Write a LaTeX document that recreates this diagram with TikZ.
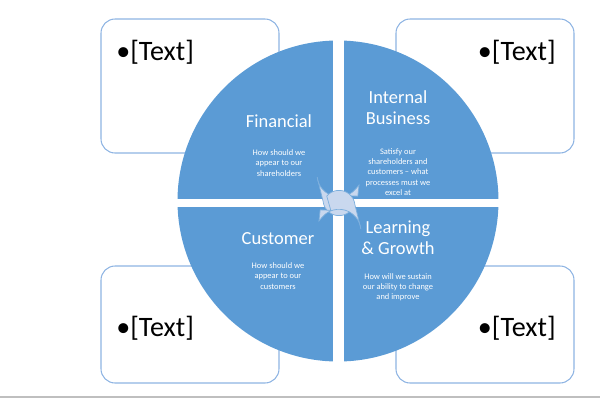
\documentclass[tikz,border=0pt]{standalone}
\usepackage{fontspec}
\setmainfont{Carlito}
\usetikzlibrary{arrows.meta}
\definecolor{qb}{HTML}{5B9BD5}
\definecolor{bb}{HTML}{8EB4E3}
\definecolor{ar}{HTML}{C9D8EE}
\begin{document}
\begin{tikzpicture}[x=0.02cm,y=-0.02cm,
  cbox/.style={draw=bb,line width=0.6pt,rounded corners=8pt,fill=white},
  ttl/.style={text=white,font=\fontsize{10.5}{12}\selectfont,align=center},
  sub/.style={text=white,font=\fontsize{4.8}{5.8}\selectfont,align=center},
  btxt/.style={font=\fontsize{16}{18}\selectfont,inner sep=0pt},
  carrow/.style={draw=qb!80,fill=ar,line width=0.4pt}]
\useasboundingbox (0,0) rectangle (600,400);
\draw[gray!50,line width=0.6pt] (0,397) -- (600,397);
\node[cbox,minimum width=178*0.02cm,minimum height=134*0.02cm] (b1) at (190,86) {};
\node[cbox,minimum width=178*0.02cm,minimum height=134*0.02cm] (b2) at (485,86) {};
\node[cbox,minimum width=178*0.02cm,minimum height=117*0.02cm] (b3) at (190,324.5) {};
\node[cbox,minimum width=178*0.02cm,minimum height=117*0.02cm] (b4) at (485,324.5) {};
\node[btxt,anchor=west] (t1) at (116,52) {\textbullet[Text]};
\node[btxt,anchor=east] (t2) at (556,52) {\textbullet[Text]};
\node[btxt,anchor=west] (t3) at (116,328) {\textbullet[Text]};
\node[btxt,anchor=east] (t4) at (556,328) {\textbullet[Text]};
\fill[qb] (338,201) circle[radius=160.5*0.02cm];
\fill[white] (333,30) rectangle (344,375);
\fill[white] (165,199) rectangle (510,207);
\node[ttl] (f) at (279,121) {Financial};
\node[sub] (fs) at (279,163) {How should we\\appear to our\\shareholders};
\node[ttl] (ib) at (398,108) {Internal\\Business};
\node[sub] (ibs) at (398,172) {Satisfy our\\shareholders and\\customers -- what\\processes must we\\excel at};
\node[ttl] (c) at (278,239) {Customer};
\node[sub] (cs) at (278,276) {How should we\\appear to our\\customers};
\node[ttl] (lg) at (398,238) {Learning\\\& Growth};
\node[sub] (lgs) at (398,287) {How will we sustain\\our ability to change\\and improve};
\coordinate (cc) at (339,203);
\draw[carrow] ([shift={(186:16)}]cc) arc[start angle=186,end angle=320,radius=16*0.02cm]
  -- ([shift={(318:11)}]cc) -- ([shift={(340:20)}]cc) -- ([shift={(318:27)}]cc)
  -- ([shift={(320:22)}]cc) arc[start angle=320,end angle=186,radius=22*0.02cm] -- cycle;
\draw[carrow] ([shift={(6:16)}]cc) arc[start angle=6,end angle=140,radius=16*0.02cm]
  -- ([shift={(138:11)}]cc) -- ([shift={(160:20)}]cc) -- ([shift={(138:27)}]cc)
  -- ([shift={(140:22)}]cc) arc[start angle=140,end angle=6,radius=22*0.02cm] -- cycle;
\end{tikzpicture}
\end{document}
